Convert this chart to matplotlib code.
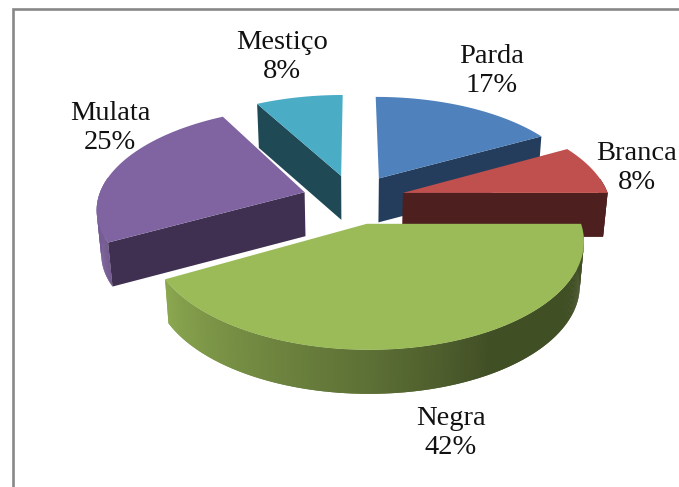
import numpy as np
import matplotlib
matplotlib.use("Agg")
import matplotlib.pyplot as plt
from matplotlib.collections import PolyCollection
from matplotlib.colors import to_rgb

# Racial self-classification shares, clockwise from twelve o'clock
categories = ["Parda", "Branca", "Negra", "Mulata", "Mestiço"]
percentages = [17, 8, 42, 25, 8]

top_colors = ["#4F81BD", "#C0504D", "#9BBB59", "#8064A2", "#4BACC6"]
side_colors = ["#253D5C", "#4D1F1E", "#3F4A25", "#3F2F50", "#1E4955"]
label_centers = [(492, 71), (637, 168), (451, 433), (110, 128), (282, 57)]

# Projection of the pie plane onto the canvas (pixel units)
CX, CY = 353.5, 199.0
SCALE_X, SCALE_Y = 206.6, 99.2
PERSPECTIVE = 0.148
EXPLODE = 0.249
DEPTH = 44.0
BOTTOM_SHRINK = 0.982

# Rim brightness against the pie angle, brightest on the lower left
SHADE_ANGLES = [0, 150, 180, 240, 280, 360]
SHADE_VALUES = [0.42, 0.42, 0.60, 0.89, 0.95, 0.95]


def project(x, y):
    f = 1.0 / (1.0 + PERSPECTIVE * y)
    return CX + SCALE_X * x * f, CY - SCALE_Y * y * f


def drop(px, py):
    return CX + (px - CX) * BOTTOM_SHRINK, py + DEPTH


def slice_points(start, end, ox, oy):
    t = np.radians(np.linspace(start, end, max(int(end - start) * 2, 2) + 1))
    return project(ox + np.sin(t), oy + np.cos(t))


fig = plt.figure(figsize=(6.79, 4.87), dpi=100, facecolor="white")
ax = fig.add_axes([0, 0, 1, 1])
ax.set_xlim(0, 679)
ax.set_ylim(487, 0)
ax.axis("off")

# Chart frame: only the left and top edges fall on the canvas
ax.plot([13, 13, 679], [487, 8.7, 8.7], color="#888888", lw=1.9,
        solid_joinstyle="miter", zorder=1)

bounds = np.concatenate([[0], np.cumsum(percentages)]) * 3.6
paint_order = [4, 0, 3, 1, 2]

for i in paint_order:
    start, end = bounds[i], bounds[i + 1]
    mid = np.radians((start + end) / 2)
    ox, oy = EXPLODE * np.sin(mid), EXPLODE * np.cos(mid)
    z = 10 + paint_order.index(i) * 3

    apex = project(ox, oy)
    apex_low = drop(*apex)
    px, py = slice_points(start, end, ox, oy)
    lx, ly = drop(px, py)

    # Outer rim as narrow strips; each one overlaps the next to hide seams.
    # The part of the arc that faces away from the viewer is left out.
    angles = np.linspace(start, end, len(px))
    strips, shades = [], []
    base = np.array(to_rgb(top_colors[i]))
    for j in range(len(px) - 1):
        centre_angle = (angles[j] + angles[j + 1]) / 2
        if np.cos(np.radians(centre_angle)) > 0.15:
            continue
        n = min(j + 2, len(px) - 1)
        strips.append([(px[j], py[j]), (px[j + 1], py[j + 1]), (px[n], py[n]),
                       (lx[n], ly[n]), (lx[j + 1], ly[j + 1]), (lx[j], ly[j])])
        shades.append(base * np.interp(centre_angle, SHADE_ANGLES, SHADE_VALUES))
    if strips:
        ax.add_collection(PolyCollection(strips, facecolors=shades, edgecolors="none",
                                         linewidths=0, zorder=z))

    # Flat cut faces, only where they turn towards the viewer
    for k, angle, sign in ((0, start, -1), (-1, end, 1)):
        if sign * np.sin(np.radians(angle)) > 1e-6:
            ax.fill([apex[0], px[k], lx[k], apex_low[0]],
                    [apex[1], py[k], ly[k], apex_low[1]],
                    color=side_colors[i], lw=0, zorder=z + 1)

    # Upper surface
    ax.fill(np.r_[apex[0], px], np.r_[apex[1], py],
            color=top_colors[i], lw=0, zorder=z + 2)

for name, value, (tx, ty) in zip(categories, percentages, label_centers):
    ax.text(tx, ty, f"{name}\n{value}%", ha="center", va="center",
            family="Liberation Serif", fontsize=20.5, color="#111111",
            linespacing=1.26, zorder=40)

fig.savefig("out.png", dpi=100, facecolor="white")
